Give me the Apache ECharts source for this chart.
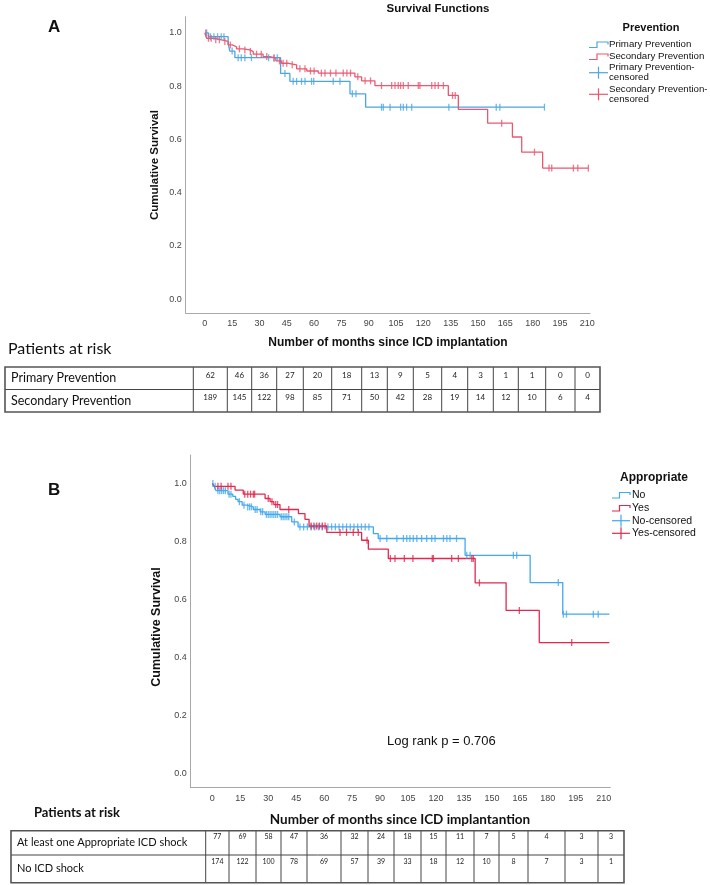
<!DOCTYPE html>
<html><head><meta charset="utf-8">
<script src="https://cdn.jsdelivr.net/npm/echarts@6/dist/echarts.min.js"></script>
<style>html,body{margin:0;padding:0;background:#fff}#c{width:710px;height:885px}</style>
</head><body><div id="c"></div>
<script>
// ---------- tick labels ----------
const monthTicks = [0,15,30,45,60,75,90,105,120,135,150,165,180,195,210];
const survTicks = [0,0.2,0.4,0.6,0.8,1.0];

// ---------- Panel A : Prevention ----------
const aPrimaryT = [0, 2, 12.8, 13.7, 16.5, 41.6, 46.7, 79.7, 88.3, 186.5];
const aPrimaryS = [1.0, 0.986, 0.961, 0.932, 0.907, 0.848, 0.818, 0.771, 0.721, 0.721];
const aPrimaryCens = [1, 3, 5, 7, 9, 10.5, 15, 18.3, 20, 22, 25.6, 35, 38, 39.8, 44, 48.5, 50.4, 53.1, 55, 58.6, 59.8, 70.5, 74.2, 81, 83, 97, 98, 101.7, 107.5, 109, 110.8, 113.6, 134, 160, 162, 186.5];

const aSecondaryT = [0, 1, 5, 9.2, 12.8, 15, 17.4, 21, 24.7, 26.6, 32, 35.7, 39, 42.1, 46, 50.4, 56, 62.3, 82.4, 86.1, 93.4, 133.7, 139.2, 155.3, 168.9, 174, 185.5, 210.6];
const aSecondaryS = [1.0, 0.98, 0.974, 0.968, 0.955, 0.948, 0.94, 0.936, 0.93, 0.92, 0.911, 0.905, 0.895, 0.886, 0.88, 0.865, 0.857, 0.849, 0.835, 0.82, 0.802, 0.765, 0.713, 0.661, 0.609, 0.552, 0.492, 0.492];
const aSecondaryCens = [0.5, 2, 3.5, 6, 8, 11, 14, 19, 22, 25, 28.4, 31, 34, 38, 41, 43, 45, 48, 52.2, 55, 58, 60, 64, 66, 69, 72, 76, 78, 80, 84, 88, 91, 97, 102.6, 104.4, 106.2, 107.5, 109, 111.7, 117.2, 118.1, 124.6, 126.4, 128.2, 131, 136, 137.5, 163, 181, 189, 190.5, 202.4, 204.8, 210.6];

// ---------- Panel B : Appropriate ----------
const bNoT = [0, 1, 2, 8.4, 11, 12.5, 13.8, 16, 18.5, 22, 25.7, 28.3, 36.3, 42.6, 46, 86.4, 89, 135.6, 170.5, 188, 213];
const bNoS = [1.0, 0.99, 0.975, 0.963, 0.955, 0.945, 0.937, 0.925, 0.919, 0.91, 0.902, 0.893, 0.885, 0.867, 0.85, 0.827, 0.81, 0.752, 0.658, 0.549, 0.549];
const bNoCens = [0.3, 1.5, 3, 4, 5, 6, 7, 9, 10, 14.5, 17, 19, 20, 21, 23, 24, 26, 27, 29, 30, 31, 32, 33, 34, 35, 37, 38, 39, 40, 41, 44, 47, 49, 51, 53, 55, 57, 59, 62, 64, 66, 68, 70, 72, 74, 76, 78, 80, 82, 84, 90, 93.6, 99, 102.5, 104.3, 106, 107.8, 109.7, 112.3, 115, 117.7, 119.5, 124, 125.8, 127.5, 131, 136.5, 138.3, 161.5, 163.3, 185.6, 188.3, 190, 204.4, 207];

const bYesT = [0, 1, 12.2, 16.6, 28.3, 31, 33, 36.3, 46.2, 49.7, 51.9, 61.4, 80.1, 83.7, 94.4, 141, 157.6, 175.4, 213];
const bYesS = [1.0, 0.99, 0.977, 0.963, 0.948, 0.937, 0.927, 0.91, 0.896, 0.876, 0.853, 0.831, 0.804, 0.773, 0.741, 0.657, 0.562, 0.451, 0.451];
const bYesCens = [3, 4.7, 8.4, 10, 17.4, 19, 20.5, 22, 22.7, 30, 32, 34, 35, 41, 53, 54.5, 56, 57.5, 59, 60.5, 68.5, 72, 75.6, 78.3, 83, 95.5, 98, 103, 107.6, 118, 118.6, 128.4, 132, 139.2, 140, 143.3, 164.7, 192.8];

// ---------- Patients at risk ----------
const riskAPrimary = [62,46,36,27,20,18,13,9,5,4,3,1,1,0,0];
const riskASecondary = [189,145,122,98,85,71,50,42,28,19,14,12,10,6,4];
const riskBShock = [77,69,58,47,36,32,24,18,15,11,7,5,4,3,3];
const riskBNoShock = [174,122,100,78,69,57,39,33,18,12,10,8,7,3,1];

const riskALabels = ['Primary Prevention','Secondary Prevention'];
const riskBLabels = ['At least one Appropriate ICD shock','No ICD shock'];

// ---------- styles ----------
const COL = {aBlue:'#4ba6e2', aRed:'#ea5870', bBlue:'#42a8f0', bRed:'#e2284f'};
const SPSS = '"Liberation Sans", Arial, sans-serif';
const CAL = 'Lato, "Liberation Sans", sans-serif';

function survAt(ts, ss, t){ let v = ss[0]; for(let i=0;i<ts.length;i++){ if(ts[i] <= t) v = ss[i]; else break; } return v; }
function curve(ts, ss){ return ts.map((t,i)=>[t, ss[i]]); }
function cens(ts, ss, cs){ return cs.map(t=>[t, survAt(ts, ss, t)]); }

function kmSeries(idx, ts, ss, cs, color){
  return [
    {type:'line', xAxisIndex:idx, yAxisIndex:idx, data:curve(ts,ss), step:'end', showSymbol:false, symbol:'none',
     lineStyle:{color, width:1.3}, silent:true, animation:false, z:3},
    {type:'scatter', xAxisIndex:idx, yAxisIndex:idx, data:cens(ts,ss,cs), symbol:'rect', symbolSize:[1.3,7],
     itemStyle:{color}, silent:true, animation:false, z:4}
  ];
}

function axisX(grid, min, max){
  return {gridIndex:grid, type:'value', min, max,
    axisLine:{show:true, onZero:false, lineStyle:{color:'#a8a8a8', width:1}},
    axisTick:{show:false}, splitLine:{show:false},
    axisLabel:{customValues:monthTicks, margin:6, fontSize:9, color:'#444', fontFamily:SPSS}};
}
function axisY(grid, min, max){
  return {gridIndex:grid, type:'value', min, max,
    axisLine:{show:true, onZero:false, lineStyle:{color:'#a8a8a8', width:1}},
    axisTick:{show:false}, splitLine:{show:false},
    axisLabel:{customValues:survTicks, formatter:v=>v.toFixed(1), margin:4, fontSize:9, color:'#444', fontFamily:SPSS}};
}

// ---------- graphic helpers ----------
const G = [];
function txt(x,y,text,font,opts){ G.push(Object.assign({type:'text', x, y, silent:true,
  style:{text, font, fill:'#111', align:'left', verticalAlign:'middle'}}, opts||{})); }
function ln(x1,y1,x2,y2,color,w){ G.push({type:'line', silent:true, shape:{x1,y1,x2,y2}, style:{stroke:color, lineWidth:w||1}}); }
function stepIcon(x0,x1,y,color){
  const xm = (x0+x1)/2 - 1.5;
  G.push({type:'polyline', silent:true, shape:{points:[[x0,y+2.5],[xm,y+2.5],[xm,y-3],[x1,y-3],[x1,y-0.5]]},
    style:{stroke:color, lineWidth:1.2, fill:null}});
}
function censIcon(x0,x1,y,color){
  ln(x0,y,x1,y,color,1.2);
  const xm=(x0+x1)/2; ln(xm,y-6,xm,y+6,color,1.2);
}
function table(edges, rowY, labels, rows, labelFont, numFont, numDy){
  const L = edges[0], R = edges[edges.length-1];
  // inner lines
  for(let r=1;r<rowY.length-1;r++) ln(L,rowY[r],R,rowY[r],'#444',1);
  for(let c=1;c<edges.length-1;c++) ln(edges[c],rowY[0],edges[c],rowY[rowY.length-1],'#444',1);
  G.push({type:'rect', silent:true, shape:{x:L,y:rowY[0],width:R-L,height:rowY[rowY.length-1]-rowY[0]},
    style:{fill:null, stroke:'#555', lineWidth:1.6}});
  rows.forEach((vals,r)=>{
    const y0=rowY[r], y1=rowY[r+1];
    txt(L+6,(y0+y1)/2,labels[r],labelFont);
    vals.forEach((v,c)=>{
      txt((edges[c+1]+edges[c+2])/2, y0+numDy, String(v), numFont, {style:{text:String(v), font:numFont, fill:'#222', align:'center', verticalAlign:'middle'}});
    });
  });
}

// ---------- Panel A texts ----------
txt(48,27,'A','bold 17px '+SPSS);
txt(438,9,'Survival Functions','bold 11.5px '+SPSS,{style:{text:'Survival Functions',font:'bold 11.5px '+SPSS,fill:'#111',align:'center',verticalAlign:'middle'}});
G.push({type:'text', x:155, y:165, rotation:Math.PI/2, silent:true,
  style:{text:'Cumulative Survival', font:'bold 11.5px '+SPSS, fill:'#111', align:'center', verticalAlign:'middle'}});
txt(388,343,'Number of months since ICD implantation','bold 12px '+SPSS,{style:{text:'Number of months since ICD implantation',font:'bold 12px '+SPSS,fill:'#111',align:'center',verticalAlign:'middle'}});
// legend A
txt(651,28,'Prevention','bold 11px '+SPSS,{style:{text:'Prevention',font:'bold 11px '+SPSS,fill:'#111',align:'center',verticalAlign:'middle'}});
stepIcon(589,608,45,COL.aBlue); txt(609,44.5,'Primary Prevention','9.7px '+SPSS);
stepIcon(589,608,57,COL.aRed); txt(609,56.7,'Secondary Prevention','9.7px '+SPSS);
censIcon(589,608,72.7,COL.aBlue); txt(609,67.7,'Primary Prevention-','9.7px '+SPSS); txt(609,77.7,'censored','9.7px '+SPSS);
censIcon(589,608,94.3,COL.aRed); txt(609,89.3,'Secondary Prevention-','9.7px '+SPSS); txt(609,99,'censored','9.7px '+SPSS);
// at risk A
txt(8,349,'Patients at risk','16px '+CAL);
table([5,193.3,227.3,251.7,276.7,303.3,331.7,361.7,387.3,413.3,441.7,467.7,493.3,518.3,545.7,575,600],
      [367,389.5,412], riskALabels, [riskAPrimary, riskASecondary], '12.5px '+CAL, '8px '+CAL, 8);

// ---------- Panel B texts ----------
txt(48,490,'B','bold 17px '+SPSS);
G.push({type:'text', x:157, y:627, rotation:Math.PI/2, silent:true,
  style:{text:'Cumulative Survival', font:'bold 12.5px '+SPSS, fill:'#111', align:'center', verticalAlign:'middle'}});
txt(387,741,'Log rank p = 0.706','13px '+SPSS);
txt(654,478,'Appropriate','bold 12px '+SPSS,{style:{text:'Appropriate',font:'bold 12px '+SPSS,fill:'#111',align:'center',verticalAlign:'middle'}});
stepIcon(612,630,495.5,COL.bBlue); txt(632,495,'No','10.5px '+SPSS);
stepIcon(612,630,508.5,COL.bRed); txt(632,508.3,'Yes','10.5px '+SPSS);
censIcon(612,630,520.7,COL.bBlue); txt(632,520.7,'No-censored','10.5px '+SPSS);
censIcon(612,630,533.3,COL.bRed); txt(632,533.3,'Yes-censored','10.5px '+SPSS);
txt(34,813,'Patients at risk','bold 13px '+CAL);
txt(400,820,'Number of months since ICD implantantion','bold 13.5px '+CAL,{style:{text:'Number of months since ICD implantantion',font:'bold 13.5px '+CAL,fill:'#111',align:'center',verticalAlign:'middle'}});
table([11,205.7,229,256,281,307,341,368,394,421,446,474,499,528,565,598,624],
      [830.7,855,882.7], riskBLabels, [riskBShock, riskBNoShock], '11px '+CAL, '7px '+CAL, 6.5);

const chart = echarts.init(document.getElementById('c'));
chart.setOption({
  animation:false,
  backgroundColor:'#fff',
  grid:[
    {left:185.7, top:16.7, width:404.3, height:296.3, containLabel:false},
    {left:190.7, top:455, width:419.6, height:332.7, containLabel:false}
  ],
  xAxis:[axisX(0,-10.5,211.5), axisX(1,-11.6,213.5)],
  yAxis:[axisY(0,-0.0525,1.061), axisY(1,-0.0497,1.098)],
  series:[].concat(
    kmSeries(0,aPrimaryT,aPrimaryS,aPrimaryCens,COL.aBlue),
    kmSeries(0,aSecondaryT,aSecondaryS,aSecondaryCens,COL.aRed),
    kmSeries(1,bNoT,bNoS,bNoCens,COL.bBlue),
    kmSeries(1,bYesT,bYesS,bYesCens,COL.bRed)
  ),
  graphic:G
});
</script></body></html>
